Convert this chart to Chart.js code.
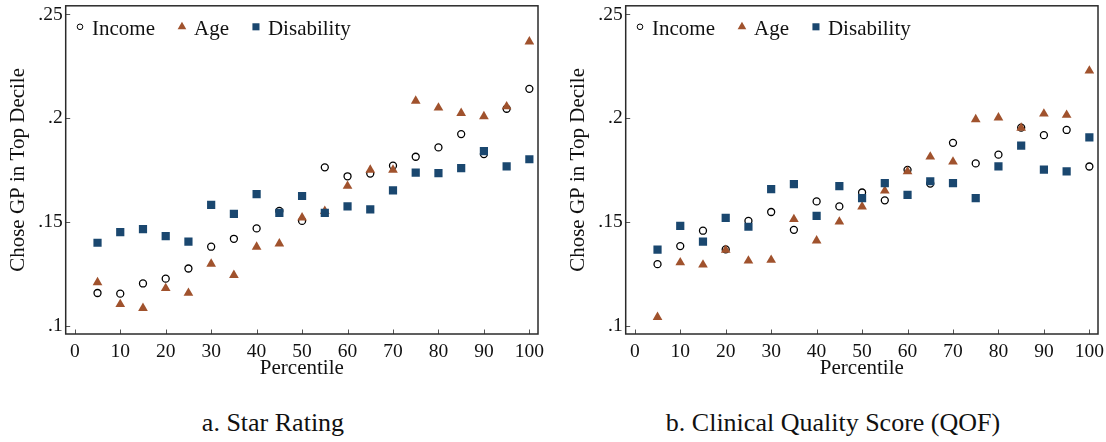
<!DOCTYPE html>
<html>
<head>
<meta charset="utf-8">
<script src="https://cdn.jsdelivr.net/npm/chart.js@4.4.1/dist/chart.umd.min.js"></script>
<style>
  body { margin: 0; background: #fff; width: 1106px; height: 442px; overflow: hidden; position: relative; }
  canvas { position: absolute; top: 0; }
  .caption {
    position: absolute; top: 410px; width: 546px; text-align: center;
    font-family: "Liberation Serif", "DejaVu Serif", serif; font-size: 26px; line-height: 26px; color: #111;
  }
</style>
</head>
<body>
<canvas id="starChart" width="546" height="390" style="left:0"></canvas>
<canvas id="qofChart" width="546" height="390" style="left:560px"></canvas>
<div class="caption" style="left:0">a. Star Rating</div>
<div class="caption" style="left:560px">b. Clinical Quality Score (QOF)</div>

<script>
// percentile of the quality measure
const percentiles = [5, 10, 15, 20, 25, 30, 35, 40, 45, 50, 55, 60, 65, 70, 75, 80, 85, 90, 95, 100];

// share choosing a GP in the top decile - star rating
const starIncome     = [0.1159, 0.1156, 0.1205, 0.1228, 0.1277, 0.1382, 0.1420, 0.1470, 0.1554, 0.1506,
                        0.1764, 0.1721, 0.1734, 0.1772, 0.1815, 0.1860, 0.1924, 0.1828, 0.2046, 0.2142];
const starAge        = [0.1210, 0.1105, 0.1086, 0.1182, 0.1159, 0.1299, 0.1245, 0.1381, 0.1397, 0.1522,
                        0.1553, 0.1674, 0.1752, 0.1752, 0.2084, 0.2051, 0.2025, 0.2009, 0.2057, 0.2369];
const starDisability = [0.1401, 0.1452, 0.1467, 0.1433, 0.1406, 0.1583, 0.1540, 0.1635, 0.1545, 0.1626,
                        0.1545, 0.1576, 0.1562, 0.1653, 0.1739, 0.1736, 0.1760, 0.1842, 0.1769, 0.1803];

// share choosing a GP in the top decile - QOF score
const qofIncome      = [0.1298, 0.1385, 0.1459, 0.1369, 0.1506, 0.1549, 0.1463, 0.1600, 0.1576, 0.1643,
                        0.1605, 0.1752, 0.1686, 0.1882, 0.1783, 0.1825, 0.1955, 0.1919, 0.1944, 0.1768];
const qofAge         = [0.1043, 0.1306, 0.1295, 0.1366, 0.1314, 0.1318, 0.1514, 0.1411, 0.1502, 0.1575,
                        0.1651, 0.1744, 0.1815, 0.1791, 0.1995, 0.2003, 0.1954, 0.2022, 0.2016, 0.2229];
const qofDisability  = [0.1368, 0.1482, 0.1406, 0.1521, 0.1478, 0.1659, 0.1683, 0.1530, 0.1674, 0.1616,
                        0.1688, 0.1631, 0.1697, 0.1688, 0.1616, 0.1769, 0.1869, 0.1753, 0.1745, 0.1908];

const seriesNames = ["Income", "Age", "Disability"];
const xTicks = [0, 10, 20, 30, 40, 50, 60, 70, 80, 90, 100];
const yTicks = [0.1, 0.15, 0.2, 0.25];
const yTickLabels = [".1", ".15", ".2", ".25"];

const serif = "'Liberation Serif', 'DejaVu Serif', serif";
const ink = "#111";

// box round the plot region plus short inward tick marks
const framePlugin = {
  id: "frame",
  afterDatasetsDraw(chart) {
    const ctx = chart.ctx;
    const a = chart.chartArea;
    const xs = chart.scales.x, ys = chart.scales.y;
    ctx.save();
    ctx.strokeStyle = "#555";
    ctx.lineWidth = 1;
    ctx.beginPath();
    xTicks.forEach(v => {
      const px = Math.round(xs.getPixelForValue(v)) + 0.5;
      ctx.moveTo(px, a.bottom);
      ctx.lineTo(px, a.bottom - 4.5);
    });
    yTicks.forEach(v => {
      const py = Math.round(ys.getPixelForValue(v)) + 0.5;
      ctx.moveTo(a.left, py);
      ctx.lineTo(a.left + 4.5, py);
    });
    ctx.stroke();
    ctx.strokeStyle = "#2a2a2a";
    ctx.lineWidth = 1.5;
    ctx.strokeRect(a.left, a.top, a.right - a.left, a.bottom - a.top);
    ctx.restore();
  }
};

// one-row key in the top left corner of the plot
const keyPlugin = {
  id: "key",
  afterDraw(chart) {
    const ctx = chart.ctx;
    const a = chart.chartArea;
    let x = a.left + 14.3;
    const markY = a.top + 21;
    const textY = a.top + 28.7;
    ctx.save();
    ctx.font = "21px " + serif;
    ctx.fillStyle = ink;
    ctx.textBaseline = "alphabetic";
    chart.data.datasets.forEach(ds => {
      ctx.fillStyle = ds.backgroundColor;
      ctx.strokeStyle = ds.borderColor;
      Chart.helpers.drawPoint(ctx, {
        pointStyle: ds.pointStyle,
        radius: ds.keyRadius,
        borderWidth: ds.borderWidth,
        rotation: 0
      }, x, markY);
      ctx.fillStyle = ink;
      ctx.fillText(ds.label, x + 12, textY);
      x += 12 + ctx.measureText(ds.label).width + 27;
    });
    ctx.restore();
  }
};

function points(vals) {
  return percentiles.map((p, i) => ({ x: p, y: vals[i] }));
}

// keep tick labels from pushing the plot region inwards
function noOverhang(s) {
  s.paddingTop = 0;
  s.paddingBottom = 0;
  s.paddingLeft = 0;
  s.paddingRight = 0;
}

function makeChart(id, income, age, disability) {
  const ctx = document.getElementById(id).getContext("2d");
  return new Chart(ctx, {
    type: "scatter",
    data: {
      datasets: [
        { label: seriesNames[0], data: points(income), order: 3,
          pointStyle: "circle", pointRadius: 3.5, keyRadius: 2.8, borderWidth: 1.3,
          borderColor: "#000", backgroundColor: "rgba(0,0,0,0)" },
        { label: seriesNames[1], data: points(age), order: 2,
          pointStyle: "triangle", pointRadius: 5.6, keyRadius: 5, borderWidth: 0,
          borderColor: "#a0522d", backgroundColor: "#a0522d" },
        { label: seriesNames[2], data: points(disability), order: 1,
          pointStyle: "rect", pointRadius: 5.8, keyRadius: 5, borderWidth: 0,
          borderColor: "#1a476f", backgroundColor: "#1a476f" }
      ]
    },
    options: {
      responsive: false,
      animation: false,
      events: [],
      layout: { padding: { top: 4, right: 8, bottom: 0, left: 0 } },
      plugins: { legend: { display: false }, tooltip: { enabled: false } },
      scales: {
        x: {
          type: "linear", min: -2, max: 101.9,
          grid: { display: false, drawTicks: false },
          border: { display: false },
          afterBuildTicks: s => { s.ticks = xTicks.map(v => ({ value: v })); },
          afterFit: s => { s.height = 56; noOverhang(s); },
          ticks: { autoSkip: false, maxRotation: 0, padding: 6, color: ink,
                   font: { family: serif, size: 19.5 }, callback: v => String(v) },
          title: { display: true, text: "Percentile", color: ink,
                   font: { family: serif, size: 21 }, padding: { top: 0, bottom: 9 } }
        },
        y: {
          type: "linear", min: 0.09617, max: 0.25417,
          grid: { display: false, drawTicks: false },
          border: { display: false },
          afterBuildTicks: s => { s.ticks = yTicks.map(v => ({ value: v })); },
          afterFit: s => { s.width = 65.7; noOverhang(s); },
          ticks: { padding: 3, color: ink, font: { family: serif, size: 19.5 },
                   callback: (v, i) => yTickLabels[i] },
          title: { display: true, text: "Chose GP in Top Decile", color: ink,
                   font: { family: serif, size: 21 }, padding: { top: 6, bottom: 0 } }
        }
      }
    },
    plugins: [framePlugin, keyPlugin]
  });
}

makeChart("starChart", starIncome, starAge, starDisability);
makeChart("qofChart", qofIncome, qofAge, qofDisability);
</script>
</body>
</html>
